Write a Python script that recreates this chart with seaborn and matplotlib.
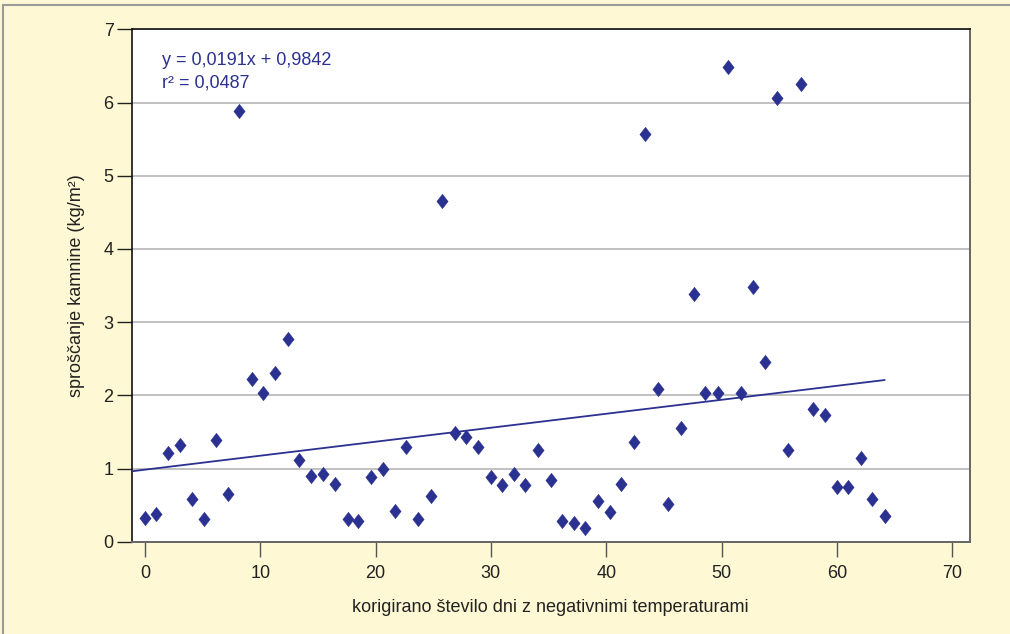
import numpy as np
import pandas as pd
import matplotlib
matplotlib.use("Agg")
import matplotlib.pyplot as plt
from matplotlib.lines import Line2D
import seaborn as sns

# corrected number of frost days vs. rock release (kg/m2)
days = [0.0, 0.95, 2.0, 3.0, 4.08, 5.15, 6.13, 7.2, 8.18, 9.28,
        10.23, 11.3, 12.37, 13.36, 14.4, 15.4, 16.5, 17.6, 18.5, 19.6,
        20.6, 21.7, 22.6, 23.65, 24.8, 25.8, 26.86, 27.84, 28.9, 29.98,
        31.0, 32.0, 33.0, 34.1, 35.2, 36.2, 37.2, 38.2, 39.3, 40.3,
        41.3, 42.4, 43.4, 44.5, 45.4, 46.5, 47.6, 48.6, 49.7, 50.6,
        51.7, 52.7, 53.8, 54.8, 55.8, 56.9, 57.9, 58.95, 60.0, 61.0,
        62.1, 63.05, 64.15]
release = [0.33, 0.38, 1.21, 1.32, 0.58, 0.31, 1.39, 0.65, 5.89, 2.22,
           2.03, 2.31, 2.77, 1.11, 0.90, 0.93, 0.79, 0.31, 0.28, 0.88,
           1.00, 0.42, 1.29, 0.31, 0.63, 4.65, 1.48, 1.43, 1.30, 0.88,
           0.77, 0.93, 0.77, 1.25, 0.84, 0.28, 0.26, 0.19, 0.56, 0.40,
           0.79, 1.36, 5.57, 2.08, 0.51, 1.55, 3.39, 2.03, 2.03, 6.49,
           2.03, 3.48, 2.45, 6.07, 1.25, 6.26, 1.82, 1.73, 0.75, 0.75,
           1.14, 0.58, 0.35]

slope = 0.0191
intercept = 0.9842
r2 = 0.0487
trend_x = [-1.2, 64.15]

x_ticks = [0, 10, 20, 30, 40, 50, 60, 70]
y_ticks = [0, 1, 2, 3, 4, 5, 6, 7]

blue = "#2B3190"
bg = "#FEF8D4"

sns.set_theme(style="white")
plt.rcParams["font.family"] = ["Liberation Sans Narrow", "Liberation Sans", "DejaVu Sans"]

df = pd.DataFrame({"days": days, "release": release})
trend = pd.DataFrame({"x": trend_x, "y": [intercept + slope * v for v in trend_x]})

fig = plt.figure(figsize=(10.1, 6.34), dpi=100, facecolor=bg)
ax = fig.add_axes([0.1303, 0.1456, 0.8301, 0.8079])
ax.set_facecolor("white")

diamond = [(-0.39, 0), (0, 0.5), (0.39, 0), (0, -0.5), (-0.39, 0)]
sns.lineplot(data=trend, x="x", y="y", color=blue, lw=1.3, ax=ax, zorder=3)
sns.scatterplot(data=df, x="days", y="release", marker=diamond, s=110,
                color=blue, edgecolor=blue, linewidth=0.3, ax=ax, zorder=4)

ax.set_xlim(-1.16, 71.55)
ax.set_ylim(0, 7)
ax.set_xticks(x_ticks)
ax.set_yticks(y_ticks)
ax.yaxis.grid(True, color="#b0b0b0", lw=1.1)
ax.set_axisbelow(True)

ax.tick_params(axis="both", which="major", labelsize=13, length=11,
               width=1, direction="out", colors="#222222",
               bottom=True, left=True, top=False, right=False)
ax.tick_params(axis="x", pad=6, color="#555555")
ax.tick_params(axis="y", pad=2)

for side in ["top", "left"]:
    ax.spines[side].set_color("#111111")
    ax.spines[side].set_linewidth(1.2)
for side in ["right", "bottom"]:
    ax.spines[side].set_color("#666666")
    ax.spines[side].set_linewidth(1.4)

ax.set_xlabel("korigirano število dni z negativnimi temperaturami",
              fontsize=13, color="#222222", labelpad=12)
ax.set_ylabel("sproščanje kamnine (kg/m²)", fontsize=13, color="#222222",
              labelpad=13)

ax.text(0.036, 0.931, f"y = {slope:.4f}x + {intercept:.4f}".replace(".", ","),
        transform=ax.transAxes, color=blue, fontsize=13, va="baseline")
ax.text(0.036, 0.886, f"r² = {r2:.4f}".replace(".", ","),
        transform=ax.transAxes, color=blue, fontsize=13, va="baseline")

# thin frame lines at top and left of the panel
fig.add_artist(Line2D([0.003, 1.0], [0.992, 0.992], transform=fig.transFigure,
                      color="#9a9a9a", lw=1.5))
fig.add_artist(Line2D([0.003, 0.003], [0.0, 0.992], transform=fig.transFigure,
                      color="#9a9a9a", lw=1.5))

fig.savefig("out.png", dpi=100, facecolor=bg)
